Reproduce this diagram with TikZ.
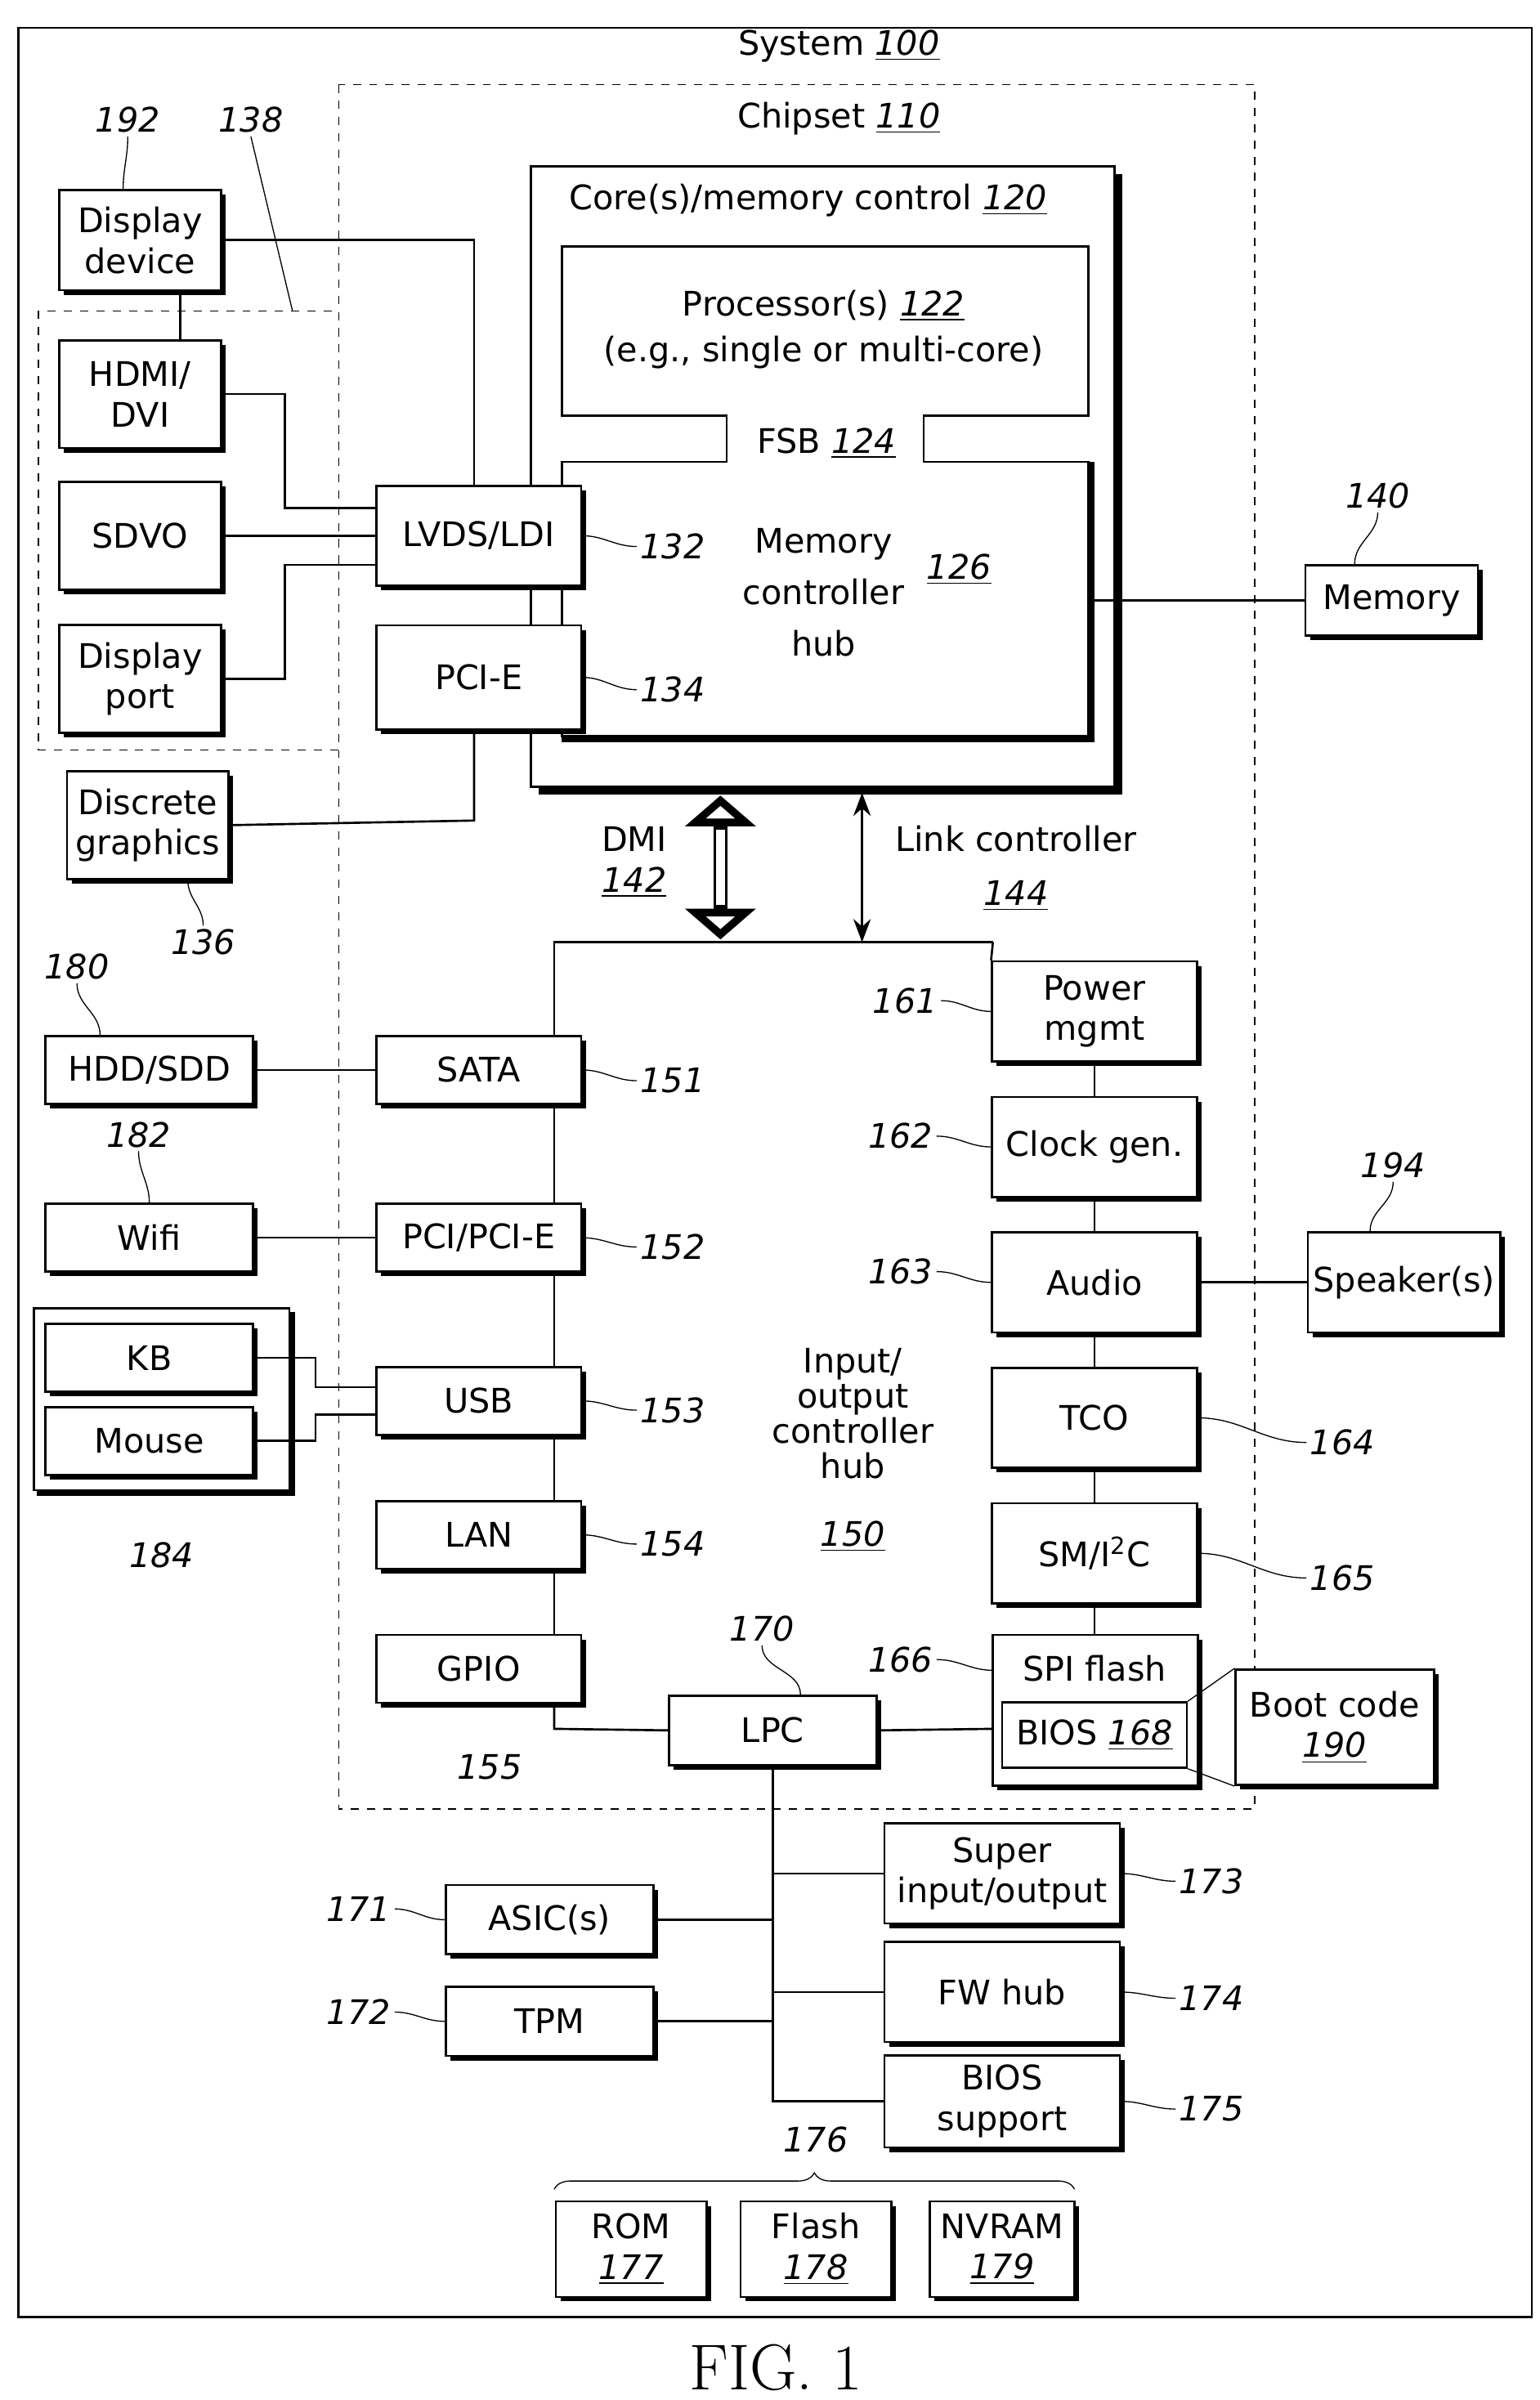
\documentclass[tikz,border=0pt]{standalone}
\usepackage{fontspec}
\setmainfont{DejaVu Sans}
\usetikzlibrary{positioning,shadows,arrows.meta,decorations.pathreplacing}
\newcommand\rn[1]{\underline{\textit{#1}}}
\newcommand\ld[1]{\textit{#1}}
\tikzset{
  box/.style={draw,thick,fill=white,align=center,inner sep=1pt,
    drop shadow={shadow xshift=0.06cm,shadow yshift=-0.06cm,fill=black,opacity=1}},
  lbox/.style={box,minimum width=2.66cm,minimum height=0.88cm},
  rbox/.style={box,minimum width=2.66cm,minimum height=1.3cm},
  pbox/.style={box,minimum width=2.7cm,minimum height=1.2cm},
  num/.style={inner sep=1pt},
  lead/.style={thin}
}
\begin{document}
\begin{tikzpicture}[x=0.02cm,y=-0.02cm,font=\fontsize{12.5}{15}\selectfont,thick]
\useasboundingbox (0,0) rectangle (1000,1559);
% frames
\draw (12,18) rectangle (995,1505);
\node (sys) at (545,30) {System \rn{100}};
\draw[dashed,thin] (220,55) rectangle (815,1175);
\node (chip) at (545,77) {Chipset \rn{110}};
\draw[fill=white,drop shadow={shadow xshift=0.1cm,shadow yshift=-0.1cm,fill=black,opacity=1}] (345,108) rectangle (724,511);
\node (core) at (525,130) {Core(s)/memory control \rn{120}};
% processor + memory controller hub
\draw (365,160) -- (707,160) -- (707,270) -- (600,270) -- (600,300) -- (707,300)
  -- (707,478) -- (365,478) -- (365,300) -- (472,300) -- (472,270) -- (365,270) -- cycle;
\draw[line width=2.2pt] (709,300) -- (709,480) -- (365,480);
\node[align=center] (proc) at (535,214) {Processor(s) \rn{122}\\[2pt](e.g., single or multi-core)};
\node (fsb) at (537,288) {FSB \rn{124}};
\node[align=center] (mch) at (535,385) {Memory\\[4pt]controller\\[4pt]hub};
\node (n126) at (623,370) {\rn{126}};
% display side
\node[lbox,minimum height=1.3cm] (lvds) at (311,348) {LVDS/LDI};
\node[lbox,minimum height=1.35cm] (pcie) at (311,440) {PCI-E};
\node[num] (n132) at (437,355) {\ld{132}};
\node[num] (n134) at (437,448) {\ld{134}};
\draw[lead] (n132.west) to[out=180,in=0] (lvds.east);
\draw[lead] (n134.west) to[out=180,in=0] (pcie.east);
\node[box,minimum width=2.1cm,minimum height=1.3cm] (dispdev) at (91,156) {Display\\device};
\draw[dashed,thin] (25,202) rectangle (220,487);
\node[box,minimum width=2.1cm,minimum height=1.4cm] (hdmi) at (91,256) {HDMI/\\DVI};
\node[box,minimum width=2.1cm,minimum height=1.4cm] (sdvo) at (91,348) {SDVO};
\node[box,minimum width=2.1cm,minimum height=1.4cm] (dport) at (91,441) {Display\\port};
\node[box,minimum width=2.1cm,minimum height=1.4cm] (dgfx) at (96,536) {Discrete\\graphics};
\node[num] (n192) at (83,78) {\ld{192}};
\node[num] (n138) at (163,78) {\ld{138}};
\node[num] (n136) at (132,612) {\ld{136}};
\draw[lead] (n192.south) to[out=-90,in=90] (dispdev.north -| 80,0);
\draw[lead] (n138.south) -- (190,202);
\draw[lead] (n136.north) to[out=90,in=-90] (dgfx.south -| 122,0);
\draw (dispdev.east) -- (308,156) -- (lvds.north -| 308,0);
\draw (dispdev.south -| 117,0) -- (hdmi.north -| 117,0);
\draw (hdmi.east) -- (185,256) -- (185,330) -- (lvds.west |- 0,330);
\draw (sdvo.east) -- (lvds.west |- 0,348);
\draw (dport.east) -- (185,441) -- (185,367) -- (lvds.west |- 0,367);
\draw (dgfx.east) -- (308,533) -- (pcie.south -| 308,0);
% memory
\node[box,minimum width=2.24cm,minimum height=0.92cm] (mem) at (904,390) {Memory};
\node[num] (n140) at (895,322) {\ld{140}};
\draw[lead] (n140.south) to[out=-90,in=90] (mem.north -| 880,0);
\draw (709,390) -- (mem.west);
% DMI / link
\coordinate (dmitop) at (468,515);
\coordinate (dmibot) at (468,612);
\draw[line width=5pt,{Triangle[open,length=4mm,width=9mm]}-{Triangle[open,length=4mm,width=9mm]},shorten <=1pt,shorten >=1pt] (dmitop) -- (dmibot);
\draw[line width=3.4pt,white,shorten <=4.8mm,shorten >=4.8mm] (dmitop) -- (dmibot);
\draw[{Stealth[length=3mm]}-{Stealth[length=3mm]}] (560,515) -- (560,612);
\node[align=center] (dmi) at (412,560) {DMI\\\rn{142}};
\node (link) at (660,545) {Link controller};
\node (n144) at (660,582) {\rn{144}};
% I/O controller hub
\node[align=center] (ioh) at (554,918) {Input/\\[-2pt]output\\[-2pt]controller\\[-2pt]hub};
\node (n150) at (554,998) {\rn{150}};
\node[lbox] (sata) at (311,695) {SATA};
\node[lbox] (pci) at (311,804) {PCI/PCI-E};
\node[lbox] (usb) at (311,910) {USB};
\node[lbox] (lan) at (311,997) {LAN};
\node[lbox] (gpio) at (311,1084) {GPIO};
\node[lbox,minimum width=2.7cm,minimum height=0.9cm] (lpc) at (502,1124) {LPC};
\draw (645,612) -- (360,612) -- (sata.north -| 360,0);
\draw (sata.south -| 360,0) -- (pci.north -| 360,0);
\draw (pci.south -| 360,0) -- (usb.north -| 360,0);
\draw (usb.south -| 360,0) -- (lan.north -| 360,0);
\draw (lan.south -| 360,0) -- (gpio.north -| 360,0);
\draw (gpio.south -| 360,0) -- (360,1123) -- (lpc.west);
\node[num] (n151) at (437,702) {\ld{151}};
\node[num] (n152) at (437,810) {\ld{152}};
\node[num] (n153) at (437,916) {\ld{153}};
\node[num] (n154) at (437,1003) {\ld{154}};
\node[num] (n155) at (318,1148) {\ld{155}};
\node[num] (n170) at (495,1058) {\ld{170}};
\foreach \a/\b in {n151/sata,n152/pci,n153/usb,n154/lan}
  \draw[lead] (\a.west) to[out=180,in=0] (\b.east);
\draw[lead] (n170.south) to[out=-90,in=90] (lpc.north -| 520,0);
\node[rbox] (pwr) at (711,657) {Power\\mgmt};
\node[rbox] (clk) at (711,745) {Clock gen.};
\node[rbox] (audio) at (711,833) {Audio};
\node[rbox] (tco) at (711,921) {TCO};
\node[rbox] (smb) at (711,1009) {SM/I\textsuperscript{2}C};
\draw (645,612) -- (pwr.north west);
\draw[draw,thick,fill=white,drop shadow={shadow xshift=0.06cm,shadow yshift=-0.06cm,fill=black,opacity=1}] (645,1062) rectangle (778,1160);
\node (spi) at (711,1084) {SPI flash};
\node[draw,thick,minimum width=2.4cm,minimum height=0.85cm,inner sep=1pt] (bios) at (711,1127) {BIOS \rn{168}};
\foreach \a/\b in {pwr/clk,clk/audio,audio/tco,tco/smb}
  \draw (\a.south) -- (\b.north);
\draw (smb.south) -- (711,1062);
\draw (lpc.east) -- (645,1123);
\node[num] (n161) at (588,650) {\ld{161}};
\node[num] (n162) at (585,738) {\ld{162}};
\node[num] (n163) at (585,826) {\ld{163}};
\node[num] (n166) at (585,1078) {\ld{166}};
\node[num] (n164) at (872,937) {\ld{164}};
\node[num] (n165) at (872,1025) {\ld{165}};
\foreach \a/\b in {n161/pwr,n162/clk,n163/audio}
  \draw[lead] (\a.east) to[out=0,in=180] (\b.west);
\draw[lead] (n166.east) to[out=0,in=180] (645,1085);
\foreach \a/\b in {n164/tco,n165/smb}
  \draw[lead] (\a.west) to[out=180,in=0] (\b.east);
\node[box,minimum width=2.5cm,minimum height=1.3cm] (spk) at (912,833) {Speaker(s)};
\node[num] (n194) at (905,757) {\ld{194}};
\draw[lead] (n194.south) to[out=-90,in=90] (spk.north -| 890,0);
\draw (audio.east) -- (spk.west);
\node[box,minimum width=2.58cm,minimum height=1.5cm] (boot) at (867,1122) {Boot code\\\rn{190}};
\draw[thin] (bios.north east) -- (boot.north west);
\draw[thin] (bios.south east) -- (boot.south west);
% left devices
\node[lbox,minimum width=2.7cm] (hdd) at (97,695) {HDD/SDD};
\node[lbox,minimum width=2.7cm] (wifi) at (97,804) {Wifi};
\node[num] (n180) at (50,628) {\ld{180}};
\node[num] (n182) at (90,737) {\ld{182}};
\draw[lead] (n180.south) to[out=-90,in=90] (hdd.north -| 65,0);
\draw[lead] (n182.south) to[out=-90,in=90] (wifi.north -| 97,0);
\draw (hdd.east) -- (sata.west);
\draw (wifi.east) -- (pci.west);
\draw[thick] (22,850) rectangle (188,968);
\draw[line width=2pt] (190,852) -- (190,970) -- (24,970);
\node[lbox,minimum width=2.7cm] (kb) at (97,882) {KB};
\node[lbox,minimum width=2.7cm] (mouse) at (97,936) {Mouse};
\node[num] (n184) at (105,1010) {\ld{184}};
\draw (kb.east) -- (205,882) -- (205,901) -- (usb.west |- 0,901);
\draw (mouse.east) -- (205,936) -- (205,919) -- (usb.west |- 0,919);
% LPC bus
\node[box,minimum width=3.06cm,minimum height=1.3cm] (sio) at (651,1217) {Super\\input/output};
\node[box,minimum width=3.06cm,minimum height=1.3cm] (fw) at (651,1294) {FW hub};
\node[box,minimum width=3.06cm,minimum height=1.2cm] (bsup) at (651,1365) {BIOS\\support};
\node[lbox,minimum width=2.7cm,minimum height=0.9cm] (asic) at (357,1247) {ASIC(s)};
\node[lbox,minimum width=2.7cm,minimum height=0.9cm] (tpm) at (357,1313) {TPM};
\draw (lpc.south) -- (502,1365) -- (bsup.west);
\draw (502,1217) -- (sio.west);
\draw (502,1294) -- (fw.west);
\draw (asic.east) -- (502,1247);
\draw (tpm.east) -- (502,1313);
\node[num] (n173) at (787,1222) {\ld{173}};
\node[num] (n174) at (787,1298) {\ld{174}};
\node[num] (n175) at (787,1370) {\ld{175}};
\node[num] (n171) at (233,1240) {\ld{171}};
\node[num] (n172) at (233,1307) {\ld{172}};
\foreach \a/\b in {n173/sio,n174/fw,n175/bsup}
  \draw[lead] (\a.west) to[out=180,in=0] (\b.east);
\foreach \a/\b in {n171/asic,n172/tpm}
  \draw[lead] (\a.east) to[out=0,in=180] (\b.west);
% BIOS storage
\node[num] (n176) at (530,1390) {\ld{176}};
\draw[thin,decorate,decoration={brace,amplitude=6pt}] (360,1422) -- (698,1422);
\node[box,minimum width=1.96cm,minimum height=1.24cm] (rom) at (410,1461) {ROM\\\rn{177}};
\node[box,minimum width=1.96cm,minimum height=1.24cm] (flash) at (530,1461) {Flash\\\rn{178}};
\node[box,minimum width=1.88cm,minimum height=1.24cm] (nvram) at (651,1461) {NVRAM\\\rn{179}};
\node[font=\fontfamily{lmr}\fontsize{24}{28}\selectfont] (fig) at (504,1538) {FIG. 1};
\end{tikzpicture}
\end{document}
